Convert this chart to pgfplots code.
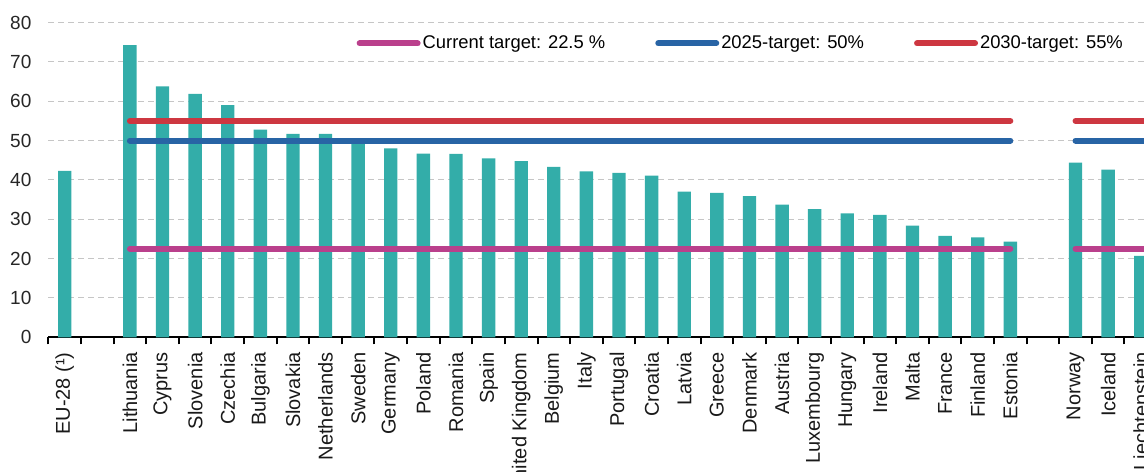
\documentclass[border=0pt]{standalone}
\usepackage{fontspec}
\setmainfont{Liberation Sans}
\usepackage{pgfplots}
\pgfplotsset{compat=1.18}

\definecolor{barteal}{RGB}{51,173,169}
\definecolor{tgtmag}{RGB}{186,64,140}
\definecolor{tgtblue}{RGB}{40,100,165}
\definecolor{tgtred}{RGB}{205,55,65}

\begin{document}
\begin{tikzpicture}
\begin{axis}[
    scale only axis,
    width=548pt, height=157.4pt,
    xmin=-0.5, xmax=33.1,
    ymin=0, ymax=80,
    ytick={0,10,...,80},
    xtick={0,2,3,...,29,31,32,33},
    xticklabels={EU-28 (¹),Lithuania,Cyprus,Slovenia,Czechia,Bulgaria,Slovakia,Netherlands,Sweden,Germany,Poland,Romania,Spain,United Kingdom,Belgium,Italy,Portugal,Croatia,Latvia,Greece,Denmark,Austria,Luxembourg,Hungary,Ireland,Malta,France,Finland,Estonia,Norway,Iceland,Liechtenstein},
    minor xtick={-0.5,0.5,...,33.5},
    major tick length=0pt,
    minor tick length=3.5pt,
    tick align=outside,
    minor tick style={black, line width=1pt},
    axis x line*=bottom,
    axis y line*=left,
    x axis line style={black, line width=1pt, -},
    y axis line style={draw=none},
    ytick style={draw=none},
    ymajorgrids=true,
    major grid style={densely dashed, gray!45, line width=0.5pt},
    /pgf/number format/assume math mode=true,
    yticklabel style={font=\fontsize{9.5}{11}\selectfont, text=black!85, xshift=-5pt},
    xticklabel style={rotate=90, anchor=east, font=\fontsize{10}{12}\selectfont, text=black!90, xshift=-4pt},
    bar width=0.41,
    unbounded coords=jump,
    legend columns=3,
    legend style={at={(rel axis cs:0.281,0.934)}, anchor=west, draw=none, fill=none,
        inner sep=0pt, font=\fontsize{9.2}{11}\selectfont,
        nodes={inner sep=1pt},
        /tikz/every even column/.append style={column sep=24pt}},
    legend image code/.code={\draw[#1, line cap=round] (1.5pt,0pt) -- (30.5pt,0pt);},
]

\addplot[ybar, fill=barteal, draw=none, forget plot] coordinates {
(0,42.3)
(2,74.3) (3,63.8) (4,61.9) (5,59.0) (6,52.8) (7,51.7) (8,51.7) (9,49.8)
(10,48.0) (11,46.7) (12,46.6) (13,45.5) (14,44.8) (15,43.3) (16,42.2)
(17,41.8) (18,41.1) (19,37.0) (20,36.7) (21,35.9) (22,33.7) (23,32.6)
(24,31.5) (25,31.1) (26,28.4) (27,25.8) (28,25.4) (29,24.3)
(31,44.4) (32,42.6) (33,20.7)
};

\addplot[tgtmag, line width=3pt, line cap=round] coordinates {
(2,22.5) (29,22.5) (30,nan) (31,22.5) (34,22.5)
};
\addlegendentry{Current target: 22.5 \%}
\addplot[tgtblue, line width=3pt, line cap=round] coordinates {
(2,50) (29,50) (30,nan) (31,50) (34,50)
};
\addlegendentry{2025-target: 50\%}
\addplot[tgtred, line width=3pt, line cap=round] coordinates {
(2,55) (29,55) (30,nan) (31,55) (34,55)
};
\addlegendentry{2030-target: 55\%}
\end{axis}
\pgfresetboundingbox
\path ([xshift=-24.2pt,yshift=-67pt]current axis.south west) rectangle ([yshift=11.3pt]current axis.north east);
\end{tikzpicture}
\end{document}
